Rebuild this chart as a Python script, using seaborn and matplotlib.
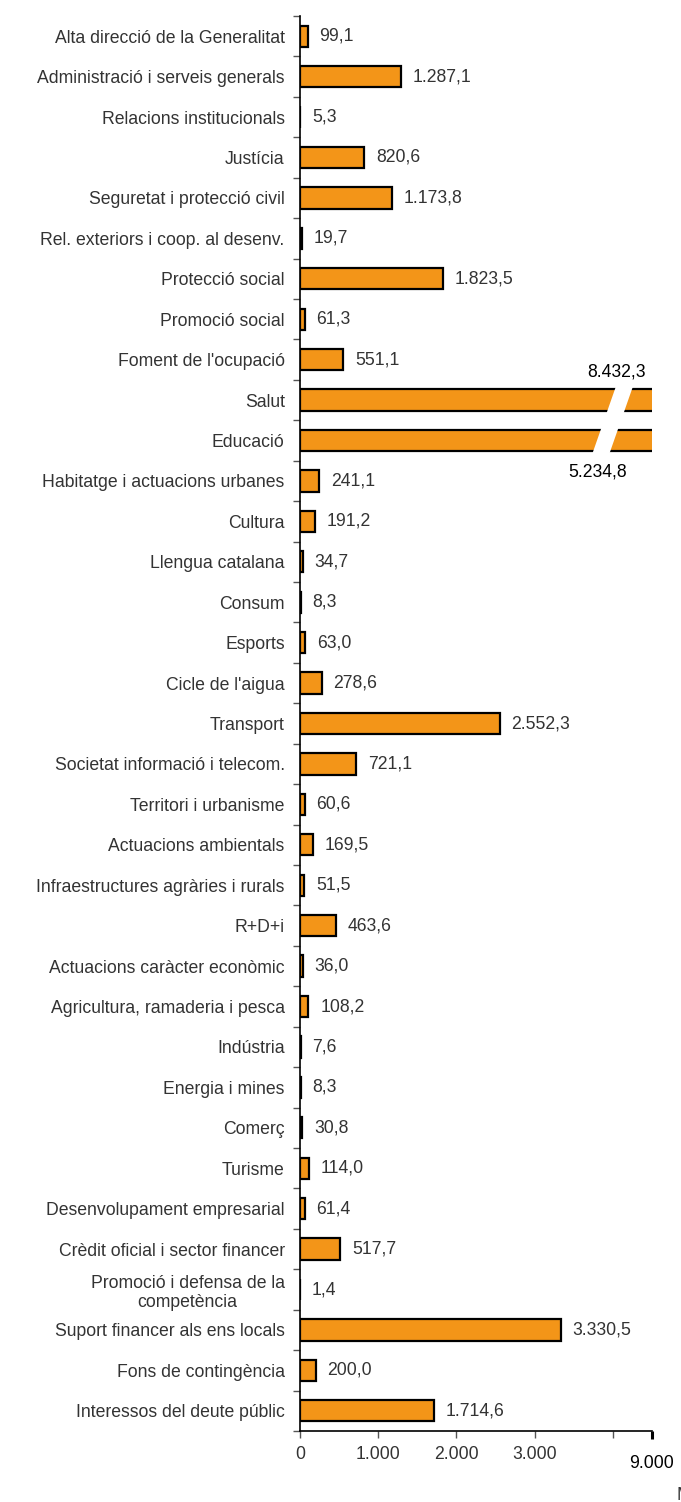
import numpy as np
import pandas as pd
import matplotlib
matplotlib.use("Agg")
import matplotlib.pyplot as plt
import seaborn as sns
from matplotlib.patches import Polygon

# dades (milions d'euros)
categories = [
    "Alta direcció de la Generalitat",
    "Administració i serveis generals",
    "Relacions institucionals",
    "Justícia",
    "Seguretat i protecció civil",
    "Rel. exteriors i coop. al desenv.",
    "Protecció social",
    "Promoció social",
    "Foment de l'ocupació",
    "Salut",
    "Educació",
    "Habitatge i actuacions urbanes",
    "Cultura",
    "Llengua catalana",
    "Consum",
    "Esports",
    "Cicle de l'aigua",
    "Transport",
    "Societat informació i telecom.",
    "Territori i urbanisme",
    "Actuacions ambientals",
    "Infraestructures agràries i rurals",
    "R+D+i",
    "Actuacions caràcter econòmic",
    "Agricultura, ramaderia i pesca",
    "Indústria",
    "Energia i mines",
    "Comerç",
    "Turisme",
    "Desenvolupament empresarial",
    "Crèdit oficial i sector financer",
    "Promoció i defensa de la\ncompetència",
    "Suport financer als ens locals",
    "Fons de contingència",
    "Interessos del deute públic",
]
values = [
    99.1, 1287.1, 5.3, 820.6, 1173.8, 19.7, 1823.5, 61.3, 551.1,
    8432.3, 5234.8, 241.1, 191.2, 34.7, 8.3, 63.0, 278.6, 2552.3,
    721.1, 60.6, 169.5, 51.5, 463.6, 36.0, 108.2, 7.6, 8.3, 30.8,
    114.0, 61.4, 517.7, 1.4, 3330.5, 200.0, 1714.6,
]
x_ticks = [0, 1000, 2000, 3000, 4000]
x_tick_labels = ["0", "1.000", "2.000", "3.000", ""]
axis_cut = 4500          # l'eix es talla aquí
axis_cut_label = "9.000"

def fmt(v):
    s = f"{v:,.1f}"
    return s.replace(",", "X").replace(".", ",").replace("X", ".")

df = pd.DataFrame({"categoria": categories, "valor": values})

sns.set_style("white")
plt.rcParams["font.family"] = ["Liberation Sans", "DejaVu Sans"]

orange = "#F39518"
text_col = "#333333"
fs = 12.7

fig = plt.figure(figsize=(6.81, 15.02), dpi=100)
ax = fig.add_axes([300 / 681, 1 - 1431 / 1502, 352 / 681, (1431 - 16) / 1502])

sns.barplot(data=df, x="valor", y="categoria", orient="h", color=orange,
            saturation=1, edgecolor="black", linewidth=1.6, width=0.53, ax=ax)

ax.set_xlim(0, axis_cut)
ax.set_ylim(len(categories) - 0.5, -0.5)
ax.set_xlabel("")
ax.set_ylabel("")

# etiquetes de valor
for i, v in enumerate(values):
    if v < axis_cut:
        ax.annotate(fmt(v), xy=(v, i), xytext=(8.5, 0), textcoords="offset points",
                    ha="left", va="center", fontsize=fs, color=text_col)

# tall de les barres grans
idx_big = [i for i, v in enumerate(values) if v > axis_cut]
y_mid = (idx_big[0] + idx_big[-1]) / 2
x_mid = 3996
slope = -181
half = 109
ytop, ybot = idx_big[0] - 0.4, idx_big[-1] + 0.4
poly = Polygon([
    (x_mid + slope * (ytop - y_mid) - half, ytop),
    (x_mid + slope * (ytop - y_mid) + half, ytop),
    (x_mid + slope * (ybot - y_mid) + half, ybot),
    (x_mid + slope * (ybot - y_mid) - half, ybot),
], closed=True, facecolor="white", edgecolor="none", zorder=5)
ax.add_patch(poly)
ax.annotate(fmt(values[idx_big[0]]), xy=(x_mid + slope * (idx_big[0] - 0.27 - y_mid), idx_big[0] - 0.27),
            xytext=(-5, 6), textcoords="offset points", ha="center", va="bottom",
            fontsize=fs, color="black")
ax.annotate(fmt(values[idx_big[-1]]), xy=(x_mid + slope * (idx_big[-1] + 0.27 - y_mid), idx_big[-1] + 0.27),
            xytext=(-3, -9), textcoords="offset points", ha="center", va="top",
            fontsize=fs, color="black")

# eixos
for s in ["top", "right"]:
    ax.spines[s].set_visible(False)
ax.spines["left"].set_color("black")
ax.spines["bottom"].set_color("black")
ax.spines["left"].set_linewidth(1.2)
ax.spines["bottom"].set_linewidth(1.2)

ax.set_yticks(range(len(categories)))
ax.set_yticklabels(categories, fontsize=fs, color=text_col, multialignment="center")
ax.set_yticks(np.arange(-0.5, len(categories), 1), minor=True)
ax.tick_params(axis="y", which="major", length=0, pad=11)
ax.tick_params(axis="y", which="minor", length=5, width=1, color="#555555", direction="out", left=True)

ax.set_xticks(x_ticks)
ax.set_xticklabels(x_tick_labels, fontsize=fs, color=text_col)
ax.set_xticks([axis_cut], minor=True)
ax.tick_params(axis="x", which="major", length=5, width=1, color="#555555", direction="out", pad=6, bottom=True)
ax.tick_params(axis="x", which="minor", length=6, width=2.2, color="black", direction="out", bottom=True)
ax.annotate(axis_cut_label, xy=(axis_cut, 0), xycoords=("data", "axes fraction"),
            xytext=(0, -17), textcoords="offset points", ha="center", va="top",
            fontsize=fs, color="black")

fig.text(677 / 681, 1 - 1496 / 1502, "Milions d'euros", fontsize=fs, color=text_col,
         ha="left", va="center")

fig.savefig("out.png", dpi=100)
